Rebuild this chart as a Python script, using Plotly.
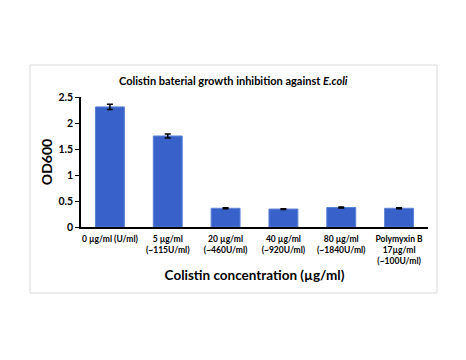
import plotly.graph_objects as go

categories = [
    "0 µg/ml (U/ml)",
    "5 µg/ml<br>(~115U/ml)",
    "20 µg/ml<br>(~460U/ml)",
    "40 µg/ml<br>(~920U/ml)",
    "80 µg/ml<br>(~1840U/ml)",
    "Polymyxin B<br>17µg/ml<br>(~100U/ml)",
]
od600 = [2.31, 1.75, 0.36, 0.345, 0.375, 0.36]
od600_err = [0.05, 0.04, 0.01, 0.008, 0.01, 0.01]
y_ticks = [0, 0.5, 1, 1.5, 2, 2.5]
y_tick_labels = ["0", "0.5", "1", "1.5", "2", "2.5"]

FONT = "Lato"

fig = go.Figure()
fig.add_trace(go.Bar(
    x=categories,
    y=od600,
    marker=dict(color="#3862C9", line=dict(color="#5B80D6", width=1)),
    error_y=dict(type="data", array=od600_err, visible=True,
                 color="#000000", thickness=1.5, width=3),
    showlegend=False,
))

fig.update_layout(
    width=458, height=352,
    margin=dict(l=73, r=38, t=89, b=133),
    paper_bgcolor="white", plot_bgcolor="white",
    bargap=0.5,
    font=dict(family=FONT, color="#000000"),
    xaxis=dict(
        showline=True, linecolor="#000000", linewidth=1.5,
        ticks="", ticklabelstandoff=3,
        tickfont=dict(family=FONT, size=8.5, color="#000000", weight="bold"),
        showgrid=False,
        title=dict(text="<b>Colistin concentration (µg/ml)</b>",
                   font=dict(family=FONT, size=13.5, color="#000000"), standoff=6),
    ),
    yaxis=dict(
        range=[0, 2.5], tickvals=y_ticks, ticktext=y_tick_labels,
        showline=True, linecolor="#000000", linewidth=1.5,
        ticks="outside", ticklen=4, tickwidth=1.2, tickcolor="#000000",
        showgrid=False, zeroline=False,
        tickfont=dict(family=FONT, size=10.5, color="#000000", weight="bold"),
        title=dict(text="<b>OD600</b>",
                   font=dict(family=FONT, size=14, color="#000000"), standoff=3),
    ),
    annotations=[dict(
        text="<b>Colistin baterial growth inhibition against <i>E.coli</i></b>",
        xref="paper", yref="paper", x=0.44, y=1.13,
        xanchor="center", yanchor="middle", showarrow=False,
        font=dict(family=FONT, size=11, color="#000000"),
    )],
    shapes=[dict(
        type="rect", xref="paper", yref="paper",
        x0=-0.147, x1=1.026, y0=-0.508, y1=1.246,
        line=dict(color="#DADADA", width=1), fillcolor="rgba(0,0,0,0)",
        layer="below",
    )],
)

fig.write_html("out.html")
